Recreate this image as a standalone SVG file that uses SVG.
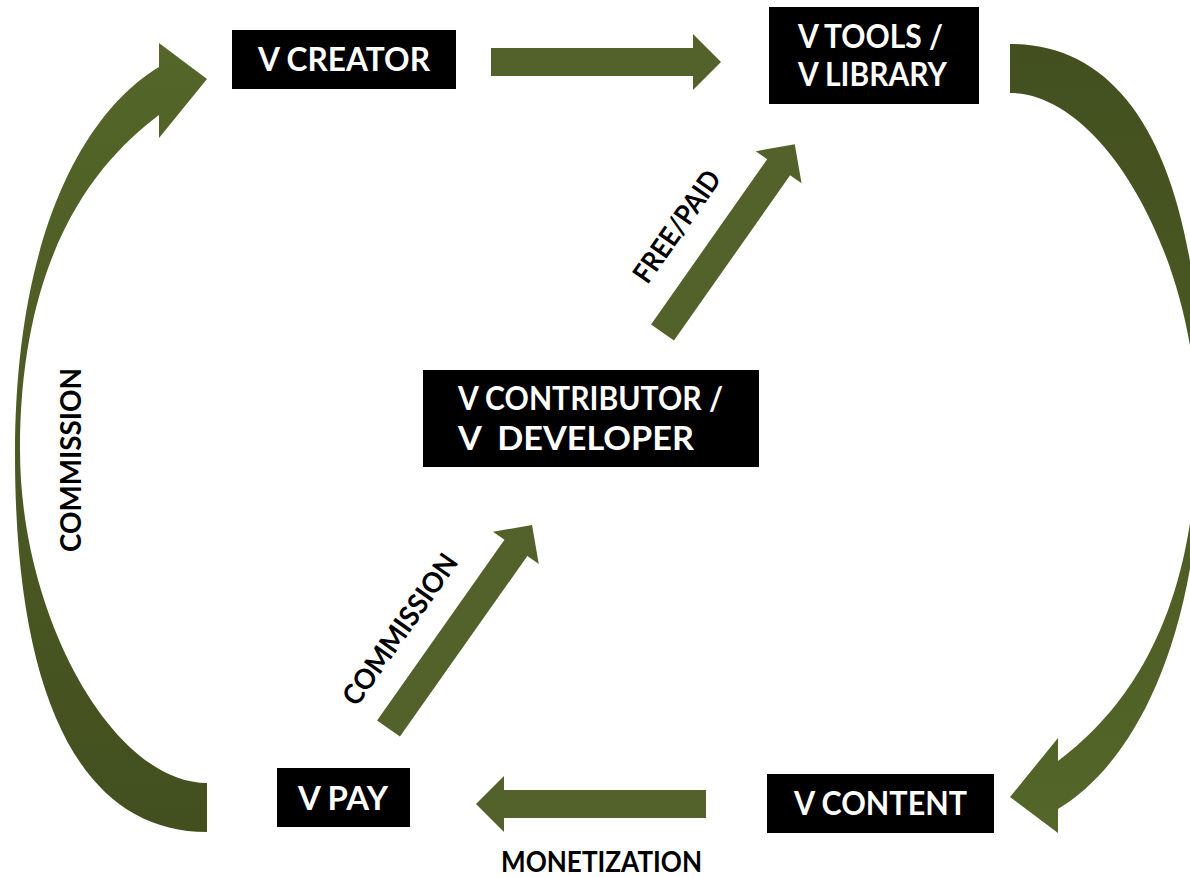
<svg xmlns="http://www.w3.org/2000/svg" width="1190" height="877" viewBox="0 0 1190 877">
<style>
.box{fill:#000}
.t{font-family:Lato,"Open Sans","Liberation Sans",sans-serif;font-weight:700;font-size:32px;fill:#fff}
.lbl{font-family:Lato,"Open Sans","Liberation Sans",sans-serif;font-weight:700;font-size:28px;fill:#000}
.arr{fill:#53622a}
</style>
<defs>
<linearGradient id="curveGrad" x1="0" y1="1" x2="0" y2="0">
<stop offset="0" stop-color="#434f1f"/>
<stop offset="1" stop-color="#546629"/>
</linearGradient>
<path id="curve" d="M207,832 C82,832 15,700 15,455 C15,225 90,108 159,67 L159,43 L207,79 L159,138 L159,115 C99,160 20,250 20,450 C20,616 113,783 207,783 Z"/>
</defs>
<rect width="1190" height="877" fill="#fff"/>
<g id="connectors">
<use href="#curve" fill="url(#curveGrad)"/>
<use href="#curve" fill="url(#curveGrad)" transform="rotate(180 608.5 438)"/>
<path class="arr" d="M0,-14 H202 V-28 L230,0 L202,28 V14 H0 Z" transform="translate(491,62)"/>
<path class="arr" d="M0,-14 H202 V-28 L230,0 L202,28 V14 H0 Z" transform="translate(706,804) rotate(180)"/>
<path class="arr" d="M0,-14 H221 V-28 L249,0 L221,28 V14 H0 Z" transform="translate(388.5,728.5) rotate(-54.8)"/>
<path class="arr" d="M0,-14 H202 V-28 L230,0 L202,28 V14 H0 Z" transform="translate(662.5,332.5) rotate(-54.9)"/>
<text class="lbl" x="501" y="872" textLength="201" lengthAdjust="spacingAndGlyphs">MONETIZATION</text>
<text class="lbl" transform="translate(81,552) rotate(-90)" x="0" y="0" textLength="184" lengthAdjust="spacingAndGlyphs">COMMISSION</text>
<text class="lbl" transform="translate(408,635) rotate(-54.8)" x="0" y="0" text-anchor="middle" textLength="178" lengthAdjust="spacingAndGlyphs">COMMISSION</text>
<text class="lbl" transform="translate(685,232) rotate(-54.9)" x="0" y="0" text-anchor="middle" textLength="130" lengthAdjust="spacingAndGlyphs">FREE/PAID</text>
</g>
<g id="v-creator">
<rect class="box" x="232" y="30" width="224" height="59"/>
<text class="t" x="258" y="71" textLength="172" lengthAdjust="spacingAndGlyphs">V CREATOR</text>
</g>
<g id="v-tools">
<rect class="box" x="769" y="7" width="210" height="97"/>
<text class="t" x="798" y="48" textLength="145" lengthAdjust="spacingAndGlyphs">V TOOLS /</text>
<text class="t" x="798" y="86" textLength="149" lengthAdjust="spacingAndGlyphs">V LIBRARY</text>
</g>
<g id="v-contributor">
<rect class="box" x="423" y="370" width="336" height="97"/>
<text class="t" x="458" y="410" textLength="265" lengthAdjust="spacingAndGlyphs">V CONTRIBUTOR /</text>
<text class="t" x="458" y="450" textLength="236" lengthAdjust="spacingAndGlyphs" xml:space="preserve">V  DEVELOPER</text>
</g>
<g id="v-content">
<rect class="box" x="767" y="774" width="227" height="59"/>
<text class="t" x="794" y="815" textLength="173" lengthAdjust="spacingAndGlyphs">V CONTENT</text>
</g>
<g id="v-pay">
<rect class="box" x="277" y="768" width="133" height="59"/>
<text class="t" x="298" y="810" textLength="90" lengthAdjust="spacingAndGlyphs">V PAY</text>
</g>
</svg>
